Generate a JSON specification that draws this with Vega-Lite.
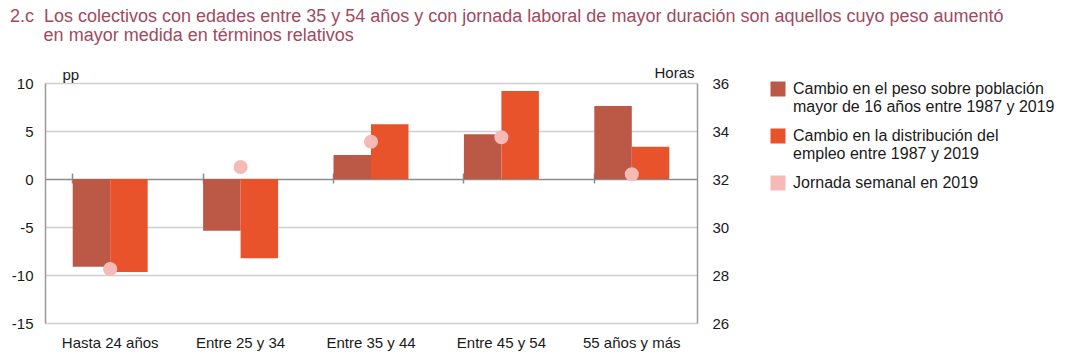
{
  "$schema": "https://vega.github.io/schema/vega-lite/v6.json",
  "width": 652,
  "height": 240,
  "autosize": "none",
  "padding": {"left": 45, "top": 83, "right": 375, "bottom": 38},
  "background": "white",
  "config": {
    "font": "Liberation Sans",
    "view": {"stroke": null},
    "axis": {"labelFont": "Liberation Sans", "titleFont": "Liberation Sans", "labelColor": "#1a1a1a", "titleColor": "#1a1a1a", "labelFontSize": 15, "titleFontSize": 15, "titleFontWeight": "normal"}
  },
  "title": {
    "text": ["2.c\u00a0\u00a0Los colectivos con edades entre 35 y 54 años y con jornada laboral de mayor duración son aquellos cuyo peso aumentó", "\u200b\u00a0\u00a0\u00a0\u00a0\u00a0\u00a0\u2009en mayor medida en términos relativos"],
    "anchor": "start",
    "frame": "group",
    "dx": -35,
    "offset": 20,
    "color": "#a14a5e",
    "font": "Liberation Sans",
    "fontSize": 18,
    "fontWeight": "normal",
    "lineHeight": 19
  },
  "data": {
    "values": [
      {"cat": "Hasta 24 años", "serie": "Cambio en el peso sobre población mayor de 16 años entre 1987 y 2019", "valor": -9.15},
      {"cat": "Hasta 24 años", "serie": "Cambio en la distribución del empleo entre 1987 y 2019", "valor": -9.7},
      {"cat": "Hasta 24 años", "serie": "Jornada semanal en 2019", "valor": 28.25},
      {"cat": "Entre 25 y 34", "serie": "Cambio en el peso sobre población mayor de 16 años entre 1987 y 2019", "valor": -5.4},
      {"cat": "Entre 25 y 34", "serie": "Cambio en la distribución del empleo entre 1987 y 2019", "valor": -8.25},
      {"cat": "Entre 25 y 34", "serie": "Jornada semanal en 2019", "valor": 32.5},
      {"cat": "Entre 35 y 44", "serie": "Cambio en el peso sobre población mayor de 16 años entre 1987 y 2019", "valor": 2.5},
      {"cat": "Entre 35 y 44", "serie": "Cambio en la distribución del empleo entre 1987 y 2019", "valor": 5.7},
      {"cat": "Entre 35 y 44", "serie": "Jornada semanal en 2019", "valor": 33.55},
      {"cat": "Entre 45 y 54", "serie": "Cambio en el peso sobre población mayor de 16 años entre 1987 y 2019", "valor": 4.65},
      {"cat": "Entre 45 y 54", "serie": "Cambio en la distribución del empleo entre 1987 y 2019", "valor": 9.17},
      {"cat": "Entre 45 y 54", "serie": "Jornada semanal en 2019", "valor": 33.74},
      {"cat": "55 años y más", "serie": "Cambio en el peso sobre población mayor de 16 años entre 1987 y 2019", "valor": 7.6},
      {"cat": "55 años y más", "serie": "Cambio en la distribución del empleo entre 1987 y 2019", "valor": 3.37},
      {"cat": "55 años y más", "serie": "Jornada semanal en 2019", "valor": 32.2}
    ]
  },
  "layer": [
    {
      "transform": [{"filter": "datum.serie != 'Jornada semanal en 2019'"}],
      "mark": {"type": "bar", "stroke": null},
      "encoding": {
        "x": {
          "field": "cat", "type": "nominal",
          "sort": ["Hasta 24 años", "Entre 25 y 34", "Entre 35 y 44", "Entre 45 y 54", "55 años y más"],
          "scale": {"paddingInner": 0.425, "paddingOuter": 0.2125},
          "title": null,
          "axis": {"labelAngle": 0, "domain": false, "ticks": false, "labelPadding": 12}
        },
        "xOffset": {"field": "serie", "type": "nominal", "scale": {"paddingInner": 0, "paddingOuter": 0}},
        "y": {
          "field": "valor", "type": "quantitative",
          "scale": {"domain": [-15, 10], "nice": false},
          "axis": {
            "values": [-15, -10, -5, 0, 5, 10],
            "labelExpr": "toString(datum.value)",
            "title": "pp", "titleAngle": 0, "titleAlign": "left", "titleBaseline": "alphabetic",
            "titleX": 17, "titleY": -4,
            "domainColor": "#9a9a9a", "domainWidth": 1.5,
            "ticks": false, "labelPadding": 12,
            "gridColor": {"condition": {"test": "datum.value === 0", "value": "#8c8c8c"}, "value": "#d0d0d0"},
            "gridWidth": 1.5
          }
        },
        "color": {
          "field": "serie", "type": "nominal",
          "scale": {
            "domain": ["Cambio en el peso sobre población mayor de 16 años entre 1987 y 2019", "Cambio en la distribución del empleo entre 1987 y 2019", "Jornada semanal en 2019"],
            "range": ["#bb5846", "#e8532b", "#f5b9b6"]
          },
          "legend": {
            "orient": "none", "legendX": 725, "legendY": -2,
            "title": null, "symbolType": "square", "symbolSize": 225, "symbolStrokeWidth": 0,
            "labelFontSize": 16, "labelFont": "Liberation Sans", "labelColor": "#1a1a1a",
            "labelOffset": 7, "rowPadding": 13, "labelLimit": 400, "labelBaseline": "middle",
            "encode": {"labels": {"update": {"lineHeight": {"value": 18}}}},
            "labelExpr": "datum.label == 'Cambio en el peso sobre población mayor de 16 años entre 1987 y 2019' ? ['Cambio en el peso sobre población', 'mayor de 16 años entre 1987 y 2019'] : datum.label == 'Cambio en la distribución del empleo entre 1987 y 2019' ? ['Cambio en la distribución del', 'empleo entre 1987 y 2019'] : datum.label"
          }
        }
      }
    },
    {
      "mark": {"type": "rule", "opacity": 0},
      "encoding": {
        "x": {
          "field": "cat", "type": "nominal",
          "sort": ["Hasta 24 años", "Entre 25 y 34", "Entre 35 y 44", "Entre 45 y 54", "55 años y más"],
          "scale": {"paddingInner": 0.425, "paddingOuter": 0.2125},
          "axis": {"orient": "bottom", "offset": -150, "labels": false, "domain": false, "ticks": true, "tickSize": 10, "tickColor": "#8c8c8c", "tickWidth": 1.5, "bandPosition": 0, "title": null}
        }
      }
    },
    {
      "transform": [{"filter": "datum.serie == 'Jornada semanal en 2019'"}],
      "mark": {"type": "point", "filled": true, "shape": "circle", "size": 200, "opacity": 1},
      "encoding": {
        "x": {
          "field": "cat", "type": "nominal",
          "sort": ["Hasta 24 años", "Entre 25 y 34", "Entre 35 y 44", "Entre 45 y 54", "55 años y más"],
          "scale": {"paddingInner": 0.425, "paddingOuter": 0.2125},
          "axis": null
        },
        "y": {
          "field": "valor", "type": "quantitative",
          "scale": {"domain": [26, 36], "nice": false},
          "axis": {
            "orient": "right", "values": [26, 28, 30, 32, 34, 36], "grid": false,
            "title": "Horas", "titleAngle": 0, "titleAlign": "right", "titleBaseline": "alphabetic",
            "titleX": -3, "titleY": -6,
            "domainColor": "#9a9a9a", "domainWidth": 1.5,
            "ticks": false, "labelPadding": 15
          }
        },
        "color": {"field": "serie", "type": "nominal"}
      }
    }
  ],
  "resolve": {"scale": {"y": "independent"}, "axis": {"x": "independent"}}
}
